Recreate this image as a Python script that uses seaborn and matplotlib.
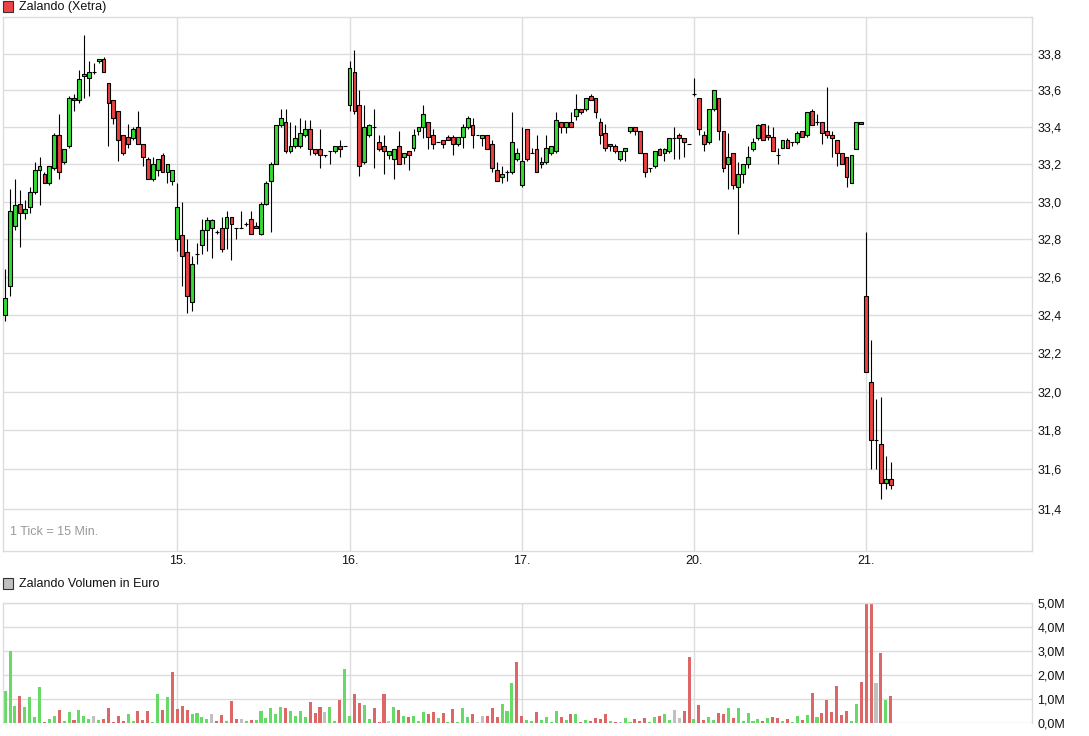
import numpy as np
import pandas as pd
import matplotlib
matplotlib.use("Agg")
import matplotlib.pyplot as plt
from matplotlib.patches import Rectangle
from matplotlib.ticker import FixedLocator, FuncFormatter, NullLocator
import seaborn as sns

# ---------------- data (15-minute candles, Xetra) ----------------
day_labels = ["14.", "15.", "16.", "17.", "20.", "21."]
bars_per_day = 35

opens = [
    # 14.
    32.40, 32.55, 32.87, 32.99, 32.94, 32.97, 33.05, 33.17, 33.15, 33.10, 33.18, 33.36, 33.21, 33.30, 33.56, 33.55, 33.68, 33.67,
    33.70, 33.76, 33.77, 33.64, 33.55, 33.49, 33.36, 33.35, 33.34, 33.40, 33.31, 33.23, 33.12, 33.17, 33.25, 33.16, 33.11,
    # 15.
    32.80, 32.82, 32.73, 32.47, 32.72, 32.77, 32.85, 32.86, 32.84, 32.86, 32.86, 32.92, 32.86, 32.86, 32.88, 32.91, 32.87, 32.83,
    32.99, 33.11, 33.20, 33.41, 33.43, 33.27, 33.30, 33.30, 33.36, 33.39, 33.28, 33.28, 33.25, 33.27, 33.27, 33.30, 33.30,
    # 16.
    33.52, 33.70, 33.52, 33.21, 33.36, 33.40, 33.32, 33.30, 33.25, 33.23, 33.30, 33.24, 33.27, 33.29, 33.38, 33.40, 33.43, 33.36,
    33.32, 33.33, 33.35, 33.35, 33.31, 33.35, 33.40, 33.41, 33.36, 33.34, 33.36, 33.31, 33.17, 33.13, 33.16, 33.16, 33.23,
    # 17.
    33.09, 33.39, 33.26, 33.28, 33.20, 33.21, 33.26, 33.27, 33.43, 33.40, 33.43, 33.46, 33.50, 33.50, 33.57, 33.56, 33.43, 33.37,
    33.31, 33.30, 33.23, 33.27, 33.38, 33.40, 33.38, 33.26, 33.18, 33.19, 33.28, 33.26, 33.27, 33.34, 33.36, 33.34, 33.31,
    # 20.
    33.58, 33.56, 33.36, 33.32, 33.50, 33.56, 33.38, 33.20, 33.26, 33.08, 33.15, 33.20, 33.28, 33.34, 33.42, 33.36, 33.35, 33.25,
    33.29, 33.33, 33.32, 33.32, 33.38, 33.36, 33.49, 33.43, 33.43, 33.38, 33.36, 33.33, 33.26, 33.24, 33.10, 33.28, 33.43,
    # 21.
    32.50, 32.05, 31.75, 31.73, 31.53, 31.55,
]
highs = [
    32.64, 33.07, 33.12, 33.06, 33.01, 33.08, 33.21, 33.24, 33.16, 33.19, 33.37, 33.47, 33.28, 33.57, 33.58, 33.71, 33.90, 33.76,
    33.75, 33.77, 33.78, 33.64, 33.55, 33.49, 33.36, 33.42, 33.40, 33.49, 33.31, 33.24, 33.24, 33.23, 33.26, 33.20, 33.17,
    33.10, 33.00, 32.80, 32.71, 32.78, 32.91, 32.92, 32.91, 32.85, 32.92, 32.95, 32.92, 32.86, 32.95, 32.89, 32.95, 32.89, 33.00,
    33.11, 33.21, 33.41, 33.50, 33.50, 33.43, 33.41, 33.45, 33.44, 33.44, 33.28, 33.39, 33.25, 33.27, 33.30, 33.33, 33.30,
    33.76, 33.82, 33.60, 33.52, 33.42, 33.50, 33.36, 33.36, 33.27, 33.28, 33.38, 33.26, 33.27, 33.39, 33.40, 33.52, 33.43, 33.39,
    33.32, 33.33, 33.36, 33.36, 33.35, 33.42, 33.46, 33.45, 33.36, 33.36, 33.36, 33.33, 33.21, 33.19, 33.17, 33.48, 33.29,
    33.40, 33.39, 33.29, 33.36, 33.24, 33.36, 33.30, 33.48, 33.43, 33.43, 33.48, 33.58, 33.50, 33.56, 33.58, 33.56, 33.45, 33.42,
    33.31, 33.31, 33.27, 33.29, 33.40, 33.40, 33.38, 33.26, 33.18, 33.27, 33.29, 33.29, 33.34, 33.40, 33.37, 33.34, 33.31,
    33.67, 33.56, 33.38, 33.50, 33.60, 33.56, 33.38, 33.37, 33.26, 33.21, 33.20, 33.30, 33.34, 33.42, 33.42, 33.41, 33.40, 33.29,
    33.33, 33.34, 33.32, 33.38, 33.38, 33.48, 33.50, 33.47, 33.43, 33.62, 33.38, 33.33, 33.26, 33.24, 33.25, 33.43, 33.43,
    32.84, 32.27, 31.96, 31.97, 31.67, 31.64,
]
lows = [
    32.37, 32.50, 32.85, 32.76, 32.91, 32.94, 33.04, 32.98, 33.10, 33.09, 33.17, 33.12, 33.20, 33.29, 33.49, 33.53, 33.56, 33.57,
    33.69, 33.75, 33.70, 33.30, 33.42, 33.22, 33.25, 33.29, 33.33, 33.31, 33.19, 33.12, 33.11, 33.14, 33.16, 33.10, 33.09,
    32.74, 32.55, 32.41, 32.42, 32.67, 32.72, 32.74, 32.70, 32.83, 32.73, 32.75, 32.69, 32.80, 32.86, 32.87, 32.83, 32.86, 32.82,
    32.98, 32.84, 33.20, 33.40, 33.26, 33.26, 33.29, 33.29, 33.35, 33.25, 33.25, 33.18, 33.24, 33.20, 33.26, 33.24, 33.30,
    33.49, 33.47, 33.14, 33.20, 33.35, 33.18, 33.27, 33.15, 33.23, 33.12, 33.20, 33.20, 33.17, 33.27, 33.36, 33.34, 33.28, 33.28,
    33.32, 33.29, 33.33, 33.25, 33.30, 33.29, 33.39, 33.29, 33.36, 33.30, 33.28, 33.16, 33.11, 33.10, 33.11, 33.15, 33.22,
    33.08, 33.22, 33.26, 33.16, 33.18, 33.20, 33.25, 33.26, 33.37, 33.37, 33.40, 33.44, 33.47, 33.49, 33.55, 33.45, 33.31, 33.27,
    33.27, 33.26, 33.22, 33.22, 33.37, 33.36, 33.26, 33.13, 33.16, 33.18, 33.25, 33.22, 33.26, 33.23, 33.23, 33.24, 33.31,
    33.57, 33.36, 33.27, 33.31, 33.49, 33.33, 33.16, 33.07, 33.07, 32.83, 33.10, 33.18, 33.27, 33.33, 33.33, 33.33, 33.27, 33.20,
    33.29, 33.29, 33.30, 33.31, 33.35, 33.35, 33.41, 33.41, 33.31, 33.34, 33.24, 33.19, 33.20, 33.08, 33.10, 33.28, 33.42,
    32.10, 31.60, 31.60, 31.45, 31.50, 31.50,
]
closes = [
    32.49, 32.95, 32.98, 32.94, 32.96, 33.05, 33.17, 33.19, 33.10, 33.19, 33.36, 33.16, 33.28, 33.56, 33.55, 33.66, 33.69, 33.70,
    33.70, 33.77, 33.70, 33.53, 33.45, 33.33, 33.26, 33.31, 33.39, 33.31, 33.24, 33.12, 33.20, 33.23, 33.16, 33.20, 33.17,
    32.97, 32.71, 32.50, 32.67, 32.72, 32.85, 32.90, 32.90, 32.84, 32.75, 32.92, 32.88, 32.86, 32.86, 32.88, 32.83, 32.86, 32.99,
    33.10, 33.20, 33.41, 33.45, 33.27, 33.30, 33.34, 33.37, 33.39, 33.28, 33.26, 33.25, 33.25, 33.27, 33.30, 33.28, 33.30,
    33.72, 33.49, 33.19, 33.40, 33.41, 33.40, 33.28, 33.27, 33.27, 33.28, 33.20, 33.26, 33.25, 33.36, 33.40, 33.47, 33.35, 33.31,
    33.32, 33.31, 33.33, 33.31, 33.35, 33.40, 33.45, 33.36, 33.36, 33.36, 33.28, 33.18, 33.11, 33.15, 33.16, 33.32, 33.26,
    33.22, 33.23, 33.26, 33.16, 33.21, 33.29, 33.30, 33.44, 33.40, 33.43, 33.40, 33.50, 33.48, 33.56, 33.55, 33.48, 33.36, 33.29,
    33.30, 33.27, 33.27, 33.29, 33.40, 33.38, 33.26, 33.16, 33.18, 33.27, 33.25, 33.28, 33.34, 33.34, 33.34, 33.32, 33.31,
    33.58, 33.39, 33.31, 33.50, 33.60, 33.38, 33.18, 33.24, 33.09, 33.15, 33.20, 33.24, 33.32, 33.41, 33.33, 33.35, 33.27, 33.25,
    33.33, 33.29, 33.32, 33.37, 33.35, 33.48, 33.41, 33.43, 33.37, 33.36, 33.34, 33.26, 33.20, 33.13, 33.25, 33.43, 33.42,
    32.10, 31.75, 31.75, 31.53, 31.55, 31.52,
]
# traded volume in million euro
volumes_m = [
    1.33, 3.00, 0.71, 1.12, 0.67, 1.08, 0.25, 1.50, 0.04, 0.17, 0.29, 0.54, 0.08, 0.46, 0.12, 0.54, 0.29, 0.17,
    0.29, 0.12, 0.17, 0.62, 0.04, 0.29, 0.08, 0.37, 0.08, 0.50, 0.12, 0.50, 0.04, 1.21, 0.54, 1.08, 2.12,
    0.58, 0.71, 0.54, 0.37, 0.42, 0.25, 0.17, 0.37, 0.08, 0.33, 0.08, 0.92, 0.17, 0.17, 0.08, 0.12, 0.12, 0.50,
    0.21, 0.62, 0.37, 0.67, 0.62, 0.50, 0.29, 0.50, 0.25, 0.87, 0.42, 0.67, 0.46, 0.67, 0.08, 0.96, 2.25,
    0.29, 1.21, 0.83, 0.75, 0.17, 0.62, 0.04, 1.21, 0.08, 0.67, 0.54, 0.29, 0.25, 0.29, 0.08, 0.46, 0.37, 0.46,
    0.21, 0.42, 0.02, 0.58, 0.04, 0.62, 0.25, 0.37, 0.02, 0.29, 0.29, 0.62, 0.25, 0.79, 0.50, 1.67, 2.54,
    0.29, 0.12, 0.08, 0.46, 0.12, 0.25, 0.04, 0.50, 0.25, 0.12, 0.37, 0.37, 0.04, 0.12, 0.08, 0.21, 0.17, 0.37,
    0.08, 0.04, 0.02, 0.21, 0.04, 0.17, 0.08, 0.21, 0.04, 0.25, 0.29, 0.37, 0.12, 0.54, 0.21, 0.50, 2.75,
    0.17, 0.75, 0.12, 0.25, 0.12, 0.42, 0.37, 0.62, 0.21, 0.62, 0.08, 0.42, 0.08, 0.17, 0.08, 0.21, 0.25, 0.21,
    0.08, 0.17, 0.04, 0.29, 0.12, 0.33, 1.25, 0.25, 0.42, 0.96, 0.46, 1.54, 0.33, 0.50, 0.08, 0.79, 1.71,
    5.00, 5.00, 1.67, 2.92, 0.96, 1.12,
]
price_ticks = [31.4, 31.6, 31.8, 32.0, 32.2, 32.4, 32.6, 32.8, 33.0, 33.2, 33.4, 33.6, 33.8]
volume_ticks = [0, 1, 2, 3, 4, 5]

# ---------------- styling ----------------
sns.set_theme(style="white")
plt.rcParams["font.family"] = ["Liberation Sans", "DejaVu Sans"]

UP, DOWN = "#33dd33", "#ee4040"
VOL_PAL = {"up": "#66d966", "down": "#dd6666", "flat": "#c0c0c0"}
GRID = "#dcdcdc"
FS = 9.0

n = len(closes)
idx = np.arange(n)
o, h, l, c = map(np.asarray, (opens, highs, lows, closes))
day_pos = [bars_per_day * k for k in range(1, len(day_labels))]
xlim = (-0.43, 208.7)

W, H = 1089, 736
fig = plt.figure(figsize=(W / 100, H / 100), dpi=100)


def frac(left, top, right, bottom):
    return [left / W, 1 - bottom / H, (right - left) / W, (bottom - top) / H]


ax = fig.add_axes(frac(3, 17.3, 1032, 551))
axv = fig.add_axes(frac(3, 602.7, 1032, 722.7))

# ---------------- price panel ----------------
ax.set_yscale("log")
ax.vlines(idx, l, h, color="black", linewidth=0.8, zorder=3)
body_col = np.where(c >= o, UP, DOWN)
ax.bar(idx, np.abs(c - o), bottom=np.minimum(o, c), width=0.78, color=body_col,
       edgecolor="black", linewidth=0.8, zorder=4)
ax.set_xlim(*xlim)
ax.set_ylim(31.185, 34.0)
ax.yaxis.set_major_locator(FixedLocator(price_ticks))
ax.yaxis.set_minor_locator(NullLocator())
ax.yaxis.set_major_formatter(FuncFormatter(lambda v, p: f"{v:.1f}".replace(".", ",")))
ax.yaxis.tick_right()
ax.set_xticks(day_pos)
ax.set_xticklabels(day_labels[1:])
ax.tick_params(axis="both", length=0, labelsize=FS, colors="#111111")
ax.tick_params(axis="y", pad=4)
ax.tick_params(axis="x", pad=3)
ax.grid(True, color=GRID, linewidth=1.0, zorder=0)
ax.set_axisbelow(True)
for s in ax.spines.values():
    s.set_color(GRID)
    s.set_linewidth(1.0)
ax.text(0.007, 0.025, "1 Tick = 15 Min.", transform=ax.transAxes, fontsize=FS,
        color="#999999", ha="left", va="bottom")

# ---------------- volume panel ----------------
diff = np.round(np.diff(np.concatenate([[c[0] - 1], c])), 4)
direction = np.where(diff > 0, "up", np.where(diff < 0, "down", "flat"))
vol_df = pd.DataFrame({"idx": idx, "vol": volumes_m, "dir": direction})
sns.barplot(data=vol_df, x="idx", y="vol", hue="dir", palette=VOL_PAL, native_scale=True,
            width=0.62, dodge=False, errorbar=None, saturation=1, legend=False,
            linewidth=0, ax=axv)
axv.set_xlim(*xlim)
axv.set_ylim(0, 5)
axv.set_xlabel("")
axv.set_ylabel("")
axv.set_xticks(day_pos)
axv.set_xticklabels([])
axv.set_yticks(volume_ticks)
axv.set_yticklabels([f"{v:.1f}M".replace(".", ",") for v in volume_ticks])
axv.yaxis.tick_right()
axv.tick_params(axis="both", length=0, labelsize=FS, colors="#111111")
axv.tick_params(axis="y", pad=4)
axv.grid(True, color=GRID, linewidth=1.0, zorder=0)
axv.set_axisbelow(True)
for name, s in axv.spines.items():
    s.set_color(GRID)
    s.set_linewidth(1.0)
axv.spines["bottom"].set_visible(False)

# ---------------- legend labels ----------------
def legend_box(top, face, label):
    fig.patches.append(Rectangle((3 / W, 1 - (top + 11) / H), 10 / W, 11 / H,
                                 transform=fig.transFigure, facecolor=face,
                                 edgecolor="#333333", linewidth=0.8))
    fig.text(19 / W, 1 - (top + 6) / H, label, fontsize=FS, color="#111111",
             ha="left", va="center")


legend_box(1, "#ee4444", "Zalando (Xetra)")
legend_box(578, "#c0c0c0", "Zalando Volumen in Euro")

fig.savefig("out.png", dpi=100, facecolor="white")
